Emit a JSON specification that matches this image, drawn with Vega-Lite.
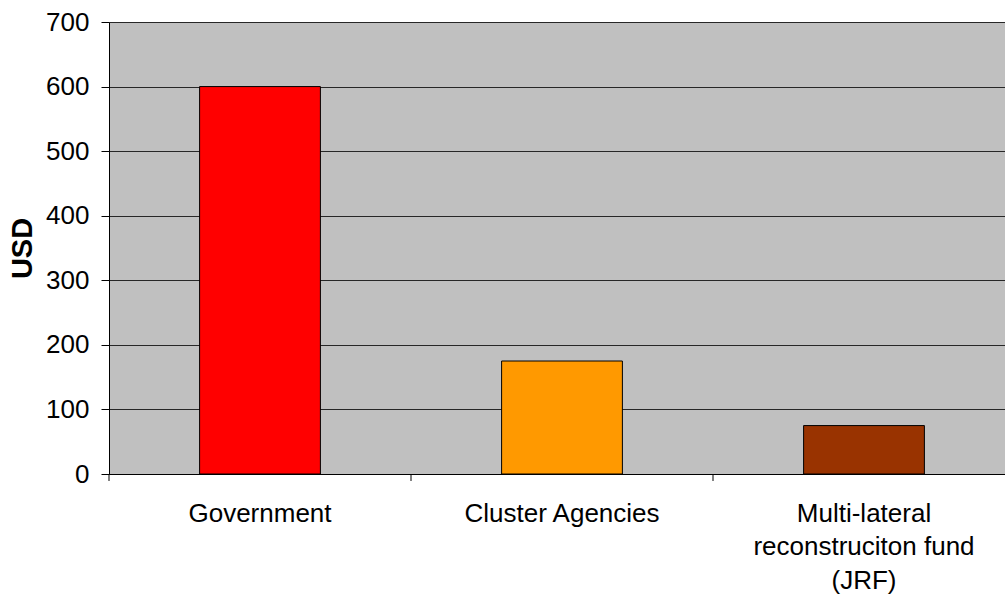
{
  "$schema": "https://vega.github.io/schema/vega-lite/v6.json",
  "width": 906,
  "height": 452,
  "autosize": {"type": "none"},
  "padding": {"left": 109, "top": 22, "right": 0, "bottom": 120},
  "background": "white",
  "config": {
    "font": "Liberation Sans",
    "view": {"fill": "#C0C0C0", "stroke": null}
  },
  "data": {
    "values": [
      {"source": "Government", "usd": 600, "color": "#FF0000"},
      {"source": "Cluster Agencies", "usd": 175, "color": "#FF9900"},
      {"source": "Multi-lateral|reconstruciton fund|(JRF)", "usd": 75, "color": "#993300"}
    ]
  },
  "layer": [
    {
      "mark": {"type": "bar", "stroke": "black", "strokeWidth": 1},
      "encoding": {
        "x": {
          "field": "source",
          "type": "nominal",
          "sort": null,
          "scale": {"paddingInner": 0.6, "paddingOuter": 0.3},
          "axis": {
            "title": null,
            "labelAngle": 0,
            "labelFontSize": 26,
            "labelColor": "black",
            "labelExpr": "split(datum.label, '|')",
            "labelLineHeight": 33.5,
            "labelPadding": 19,
            "labelBaseline": "top",
            "ticks": true,
            "tickSize": 7,
            "tickOpacity": 0,
            "domain": true,
            "domainColor": "black",
            "labelLimit": 400
          }
        },
        "y": {
          "field": "usd",
          "type": "quantitative",
          "scale": {"domain": [0, 700], "nice": false},
          "axis": {
            "title": "USD",
            "titleFontSize": 29,
            "titleFontWeight": "bold",
            "titleColor": "black",
            "titlePadding": 8,
            "values": [0, 100, 200, 300, 400, 500, 600, 700],
            "labelFontSize": 26,
            "labelColor": "black",
            "labelPadding": 12,
            "tickSize": 8,
            "tickColor": "black",
            "domainColor": "black",
            "grid": true,
            "gridColor": "#000000",
            "gridOpacity": 0.8,
            "zindex": 0
          }
        },
        "fill": {"field": "color", "type": "nominal", "scale": null}
      }
    },
    {
      "mark": {"type": "rule", "color": "black", "strokeWidth": 1},
      "encoding": {
        "x": {"field": "source", "type": "nominal", "sort": null, "bandPosition": -0.75, "title": null},
        "y": {"datum": 0, "type": "quantitative", "title": "USD"},
        "y2": {"datum": -10.8}
      }
    }
  ]
}
